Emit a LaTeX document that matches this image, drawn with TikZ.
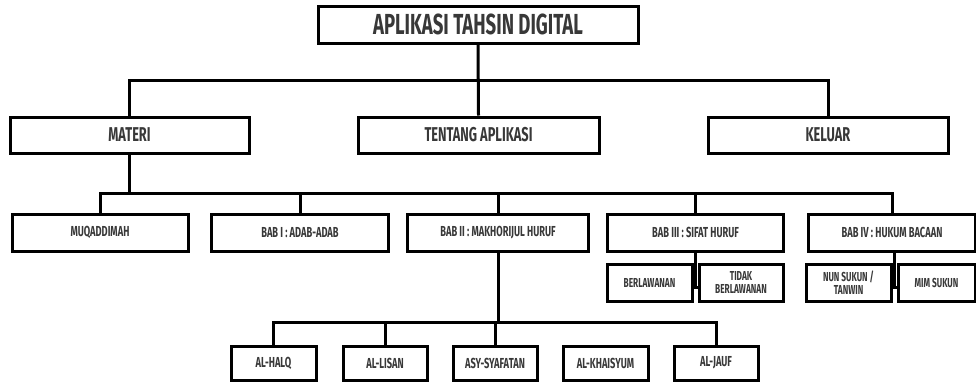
\documentclass[tikz,border=0pt]{standalone}
\usepackage{fontspec}
\setmainfont{Fira Sans}[FakeStretch=0.64]
\begin{document}
\begin{tikzpicture}[x=1pt,y=-1pt,line width=3pt,
    kotak/.style={draw,rectangle,inner sep=0pt,text=black!78},
    utama/.style={kotak,minimum height=37pt,font=\fontsize{29}{30}\selectfont\bfseries},
    menu/.style={kotak,minimum height=36pt,font=\fontsize{20}{22}\selectfont\bfseries},
    bab/.style={kotak,minimum height=37pt,font=\fontsize{14.5}{15}\selectfont\bfseries},
    sub/.style={kotak,minimum height=37pt,align=center,font=\fontsize{13}{13.5}\selectfont\bfseries},
    huruf/.style={kotak,minimum height=34pt,font=\fontsize{14.5}{15}\selectfont\bfseries}]
\useasboundingbox (0,0) rectangle (976,381);
\node[utama,minimum width=320pt] (app) at (478,24.5) {APLIKASI TAHSIN DIGITAL};
\node[menu,minimum width=239pt] (materi) at (129.5,135) {MATERI};
\node[menu,minimum width=241pt] (tentang) at (478.5,135) {TENTANG APLIKASI};
\node[menu,minimum width=240pt] (keluar) at (828,135) {KELUAR};
\node[bab,minimum width=176pt] (muq) at (100,232.5) {MUQADDIMAH};
\node[bab,minimum width=177pt] (bab1) at (300,232.5) {BAB I : ADAB-ADAB};
\node[bab,minimum width=181pt] (bab2) at (498,232.5) {BAB II : MAKHORIJUL HURUF};
\node[bab,minimum width=176pt] (bab3) at (695.5,232.5) {BAB III : SIFAT HURUF};
\node[bab,minimum width=167pt] (bab4) at (892,232.5) {BAB IV : HUKUM BACAAN};
\node[sub,minimum width=85pt] (berl) at (649.5,282.5) {BERLAWANAN};
\node[sub,minimum width=84pt] (tidak) at (741,282.5) {TIDAK\\BERLAWANAN};
\node[sub,minimum width=85pt] (nun) at (848.5,282.5) {NUN SUKUN /\\TANWIN};
\node[sub,minimum width=77pt] (mim) at (936.5,282.5) {MIM SUKUN};
\node[huruf,minimum width=85pt] (halq) at (273.5,363) {AL-HALQ};
\node[huruf,minimum width=84pt] (lisan) at (385,363) {AL-LISAN};
\node[huruf,minimum width=84pt] (asy) at (495,363) {ASY-SYAFATAN};
\node[huruf,minimum width=85pt] (khai) at (605.5,363) {AL-KHAISYUM};
\node[huruf,minimum width=84pt] (jauf) at (716,363) {AL-JAUF};
\coordinate (bus1) at (478,80);
\coordinate (bus2) at (129.5,193);
\coordinate (bus4) at (498,322);
\coordinate (j3) at (695.5,287);
\coordinate (j4) at (894.5,287);
\draw (app.south) -- (tentang.north);
\draw (materi.north) |- (bus1) -| (keluar.north);
\draw (materi.south) -- (bus2);
\draw (muq.north) |- (bus2) -| (bab4.north);
\foreach \b in {bab1,bab2,bab3}
  \draw (\b.north) -- (\b.north |- bus2);
\draw (bab3.south) -- (j3);
\draw (berl.east |- j3) -- (tidak.west |- j3);
\draw (bab4.south -| j4) -- (j4);
\draw (nun.east |- j4) -- (mim.west |- j4);
\draw (bab2.south) -- (bus4);
\draw (halq.north) |- (bus4) -| (jauf.north);
\foreach \h in {lisan,asy}
  \draw (\h.north) -- (\h.north |- bus4);
\end{tikzpicture}
\end{document}
